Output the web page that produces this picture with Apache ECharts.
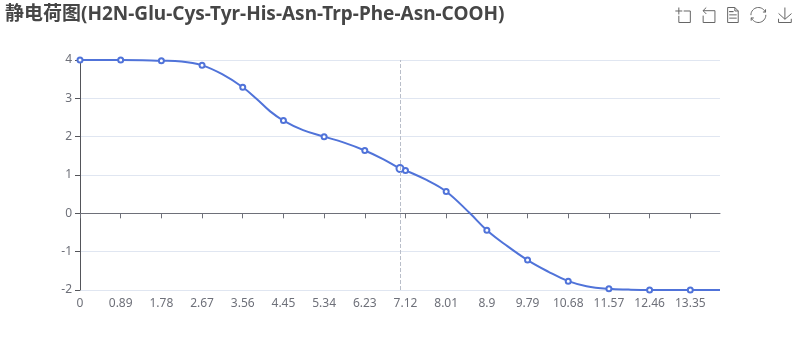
<!DOCTYPE html>
<html><head><meta charset="utf-8"><style>html,body{margin:0;padding:0;background:#fff}#c{width:800px;height:360px}</style>
<script src="https://cdn.jsdelivr.net/npm/echarts@6/dist/echarts.min.js"></script></head>
<body><div id="c"></div><script>
const titleText = '静电荷图(H2N-Glu-Cys-Tyr-His-Asn-Trp-Phe-Asn-COOH)';
const tickValues = [0,0.89,1.78,2.67,3.56,4.45,5.34,6.23,7.12,8.01,8.9,9.79,10.68,11.57,12.46,13.35];
const yTicks = [-2,-1,0,1,2,3,4];
const markerY = [4,4,3.98,3.86,3.29,2.42,2,1.64,1.12,0.57,-0.44,-1.22,-1.77,-1.97,-2,-2];
const highlightX = 7.0;
const highlightY = 1.17;
// curve readings between the drawn markers (no symbol)
const curveX = [2.22,3.11,3.86,4.16,4.88,5.76,6.64,7.58,8.53,9.33,10.24,11.08,12.0,14];
const curveY = [3.96,3.63,2.99,2.66,2.17,1.85,1.41,0.87,0,-0.84,-1.52,-1.9,-1.99,-2];

const points = tickValues.map((x,i)=>({value:[x,markerY[i]],symbolSize:5}));
points.push({value:[highlightX,highlightY],symbolSize:7});
curveX.forEach((x,i)=>points.push({value:[x,curveY[i]],symbol:'none'}));
points.sort((a,b)=>a.value[0]-b.value[0]);

const chart = echarts.init(document.getElementById('c'));
chart.setOption({
  animation:false,
  title:{text:titleText,left:0,top:0,textStyle:{fontFamily:'"Noto Sans","Noto Sans CJK SC",sans-serif',fontSize:19,fontWeight:'bold',color:'#464646'}},
  textStyle:{fontFamily:'"Noto Sans","Noto Sans CJK SC",sans-serif'},
  toolbox:{right:-9,top:-10,itemSize:15,itemGap:7.7,iconStyle:{borderColor:'#666',borderWidth:1},
    feature:{dataZoom:{},dataView:{},restore:{},saveAsImage:{}}},
  grid:{left:80,right:80,top:60,bottom:70},
  xAxis:{type:'value',min:0,max:14,interval:0.89,
    axisLine:{onZero:true,lineStyle:{color:'#6E7079'}},
    axisTick:{show:true,customValues:tickValues},
    axisLabel:{customValues:tickValues,color:'#6E7079',fontSize:12,formatter:v=>String(v)},
    splitLine:{show:false}},
  yAxis:{type:'value',min:yTicks[0],max:yTicks[yTicks.length-1],interval:1,
    axisLabel:{color:'#6E7079',fontSize:12},
    splitLine:{show:true,lineStyle:{color:'#E0E6F1'}}},
  series:[{type:'line',smooth:0.4,symbol:'emptyCircle',showAllSymbol:true,data:points,
    itemStyle:{color:'#5073D9'},lineStyle:{color:'#5073D9',width:2},
    markLine:{silent:true,symbol:'none',label:{show:false},
      lineStyle:{color:'#B9BEC9',type:'dashed',width:1},
      data:[{xAxis:highlightX}]}}]
});
</script></body></html>
